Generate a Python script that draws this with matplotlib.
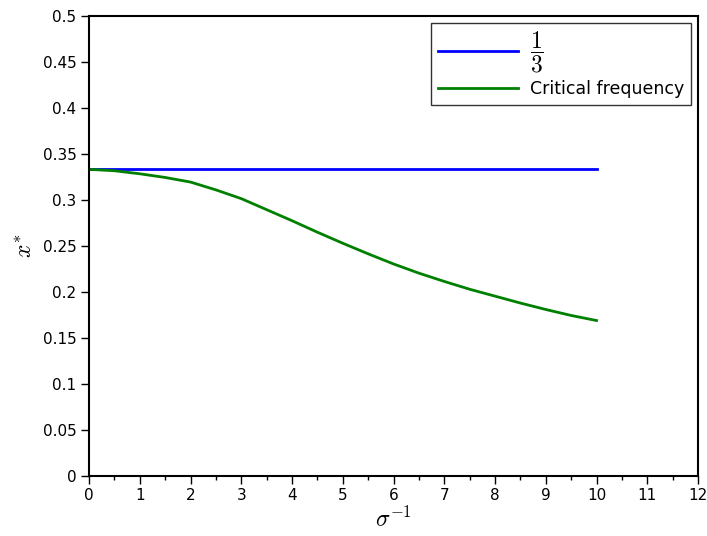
import matplotlib
matplotlib.use("Agg")
import matplotlib.pyplot as plt
from matplotlib.ticker import MultipleLocator

plt.rcParams['mathtext.fontset'] = 'cm'
plt.rcParams['font.family'] = ['DejaVu Sans']

sigma_inv = [0.0, 0.5, 1.0, 1.5, 2.0, 2.5, 3.0, 3.5, 4.0, 4.5, 5.0, 5.5, 6.0, 6.5, 7.0, 7.5, 8.0, 8.5, 9.0, 9.5, 10.0]
critical = [0.3333, 0.3318, 0.3285, 0.3245, 0.3195, 0.3110, 0.3015, 0.2895, 0.2775, 0.2650, 0.2530, 0.2415, 0.2305, 0.2205, 0.2115, 0.2030, 0.1955, 0.1880, 0.1810, 0.1745, 0.1690]
third_x = [0.0, 10.0]
third_y = [1/3, 1/3]

fig = plt.figure(figsize=(7.07, 5.36), dpi=100)
ax = fig.add_axes([89/707, 60/536, 609/707, 460/536])

ax.plot(third_x, third_y, color='#0000ff', lw=2, label=r'$\dfrac{1}{3}$')
ax.plot(sigma_inv, critical, color='#008000', lw=2, label='Critical frequency')

ax.set_xlim(0, 12)
ax.set_ylim(0, 0.5)
ax.xaxis.set_major_locator(MultipleLocator(1))
ax.xaxis.set_minor_locator(MultipleLocator(0.5))
ax.yaxis.set_major_locator(MultipleLocator(0.05))
ax.xaxis.set_major_formatter(plt.FuncFormatter(lambda v, p: f"{v:g}"))
ax.yaxis.set_major_formatter(plt.FuncFormatter(lambda v, p: f"{v:g}"))
ax.tick_params(axis='both', which='major', direction='out', length=6, width=1, labelsize=11, pad=3)
ax.tick_params(axis='x', which='minor', direction='out', length=3, width=1)
for s in ax.spines.values():
    s.set_linewidth(1.5)

ax.set_xlabel(r'$\sigma^{-1}$', fontsize=17, labelpad=2)
ax.set_ylabel(r'$x^{*}$', fontsize=17, labelpad=4)

leg = ax.legend(loc='upper right', fontsize=12.5, frameon=True, fancybox=False,
                edgecolor='black', borderaxespad=0.4, handlelength=4.6,
                handletextpad=0.7, borderpad=0.4, labelspacing=0.3)
leg.get_frame().set_linewidth(1.0)
leg.get_texts()[0].set_fontsize(17)

fig.savefig('out.png', dpi=100)
